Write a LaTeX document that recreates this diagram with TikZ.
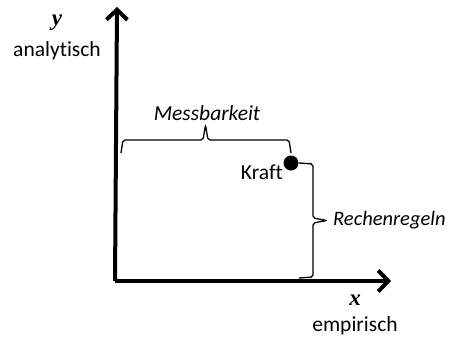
\documentclass[tikz,border=0pt]{standalone}
\usepackage{fontspec}
\setmainfont[Ligatures=NoCommon]{Carlito}
\newfontfamily\varfont{Liberation Serif}
\usetikzlibrary{arrows.meta, positioning}
\tikzstyle{axis} = [line width=4pt, -{Straight Barb[length=10pt, width=21pt]}]
\tikzstyle{brace} = [line width=1.3pt, rounded corners=2pt]
\tikzstyle{label} = [font=\fontsize{21.5}{26}\selectfont, inner sep=0pt]
\tikzstyle{var} = [font=\fontsize{23}{26}\selectfont\varfont\bfseries\itshape, inner sep=0pt]
\tikzstyle{point} = [circle, fill=black, minimum size=15pt, inner sep=0pt]

\begin{document}
\begin{tikzpicture}[x=1pt, y=-1pt]
			\useasboundingbox (0,0) rectangle (452,338);
			% Nodes
			\coordinate (origin) at (117,281);
			\coordinate (ytip) at (117,7);
			\coordinate (xtip) at (391,281);
			\node (kraft) [point] at (291,163) {};
			\coordinate (mleft) at (121,153);
			\coordinate (mright) at (291,153);
			\coordinate (rtop) at (299,163);
			\coordinate (rbottom) at (299,278);
			\node (yvar) [var] at (57,23) {y};
			\node (ylabel) [label, below=10pt of yvar] {analytisch};
			\node (xvar) [var] at (355,300) {x};
			\node (xlabel) [label, below=11pt of xvar] {empirisch};
			\node (kraftlabel) [label, anchor=east] at (283,172) {Kraft};
			\node (mess) [label, font=\fontsize{21.5}{26}\selectfont\itshape] at (207,113) {Messbarkeit};
			\node (rechen) [label, font=\fontsize{20.5}{26}\selectfont\itshape, anchor=west] at (333,220) {Rechenregeln};

			% Arrows
			\draw [axis] ([xshift=-2pt]origin) -- (ytip);
			\draw [axis] ([xshift=-2pt]origin) -- (xtip);
			\draw [brace] (mleft) -- ++(2,-13) -- (203,140) -- (205.5,125) -- (208,140) -- ([xshift=-2pt]mright |- 0,140) -- (mright);
			\draw [brace] (rtop) -- ++(14,1) -- (313,218) -- (327,220.5) -- (313,223) -- (313,277) -- (rbottom);
		\end{tikzpicture}
\end{document}
